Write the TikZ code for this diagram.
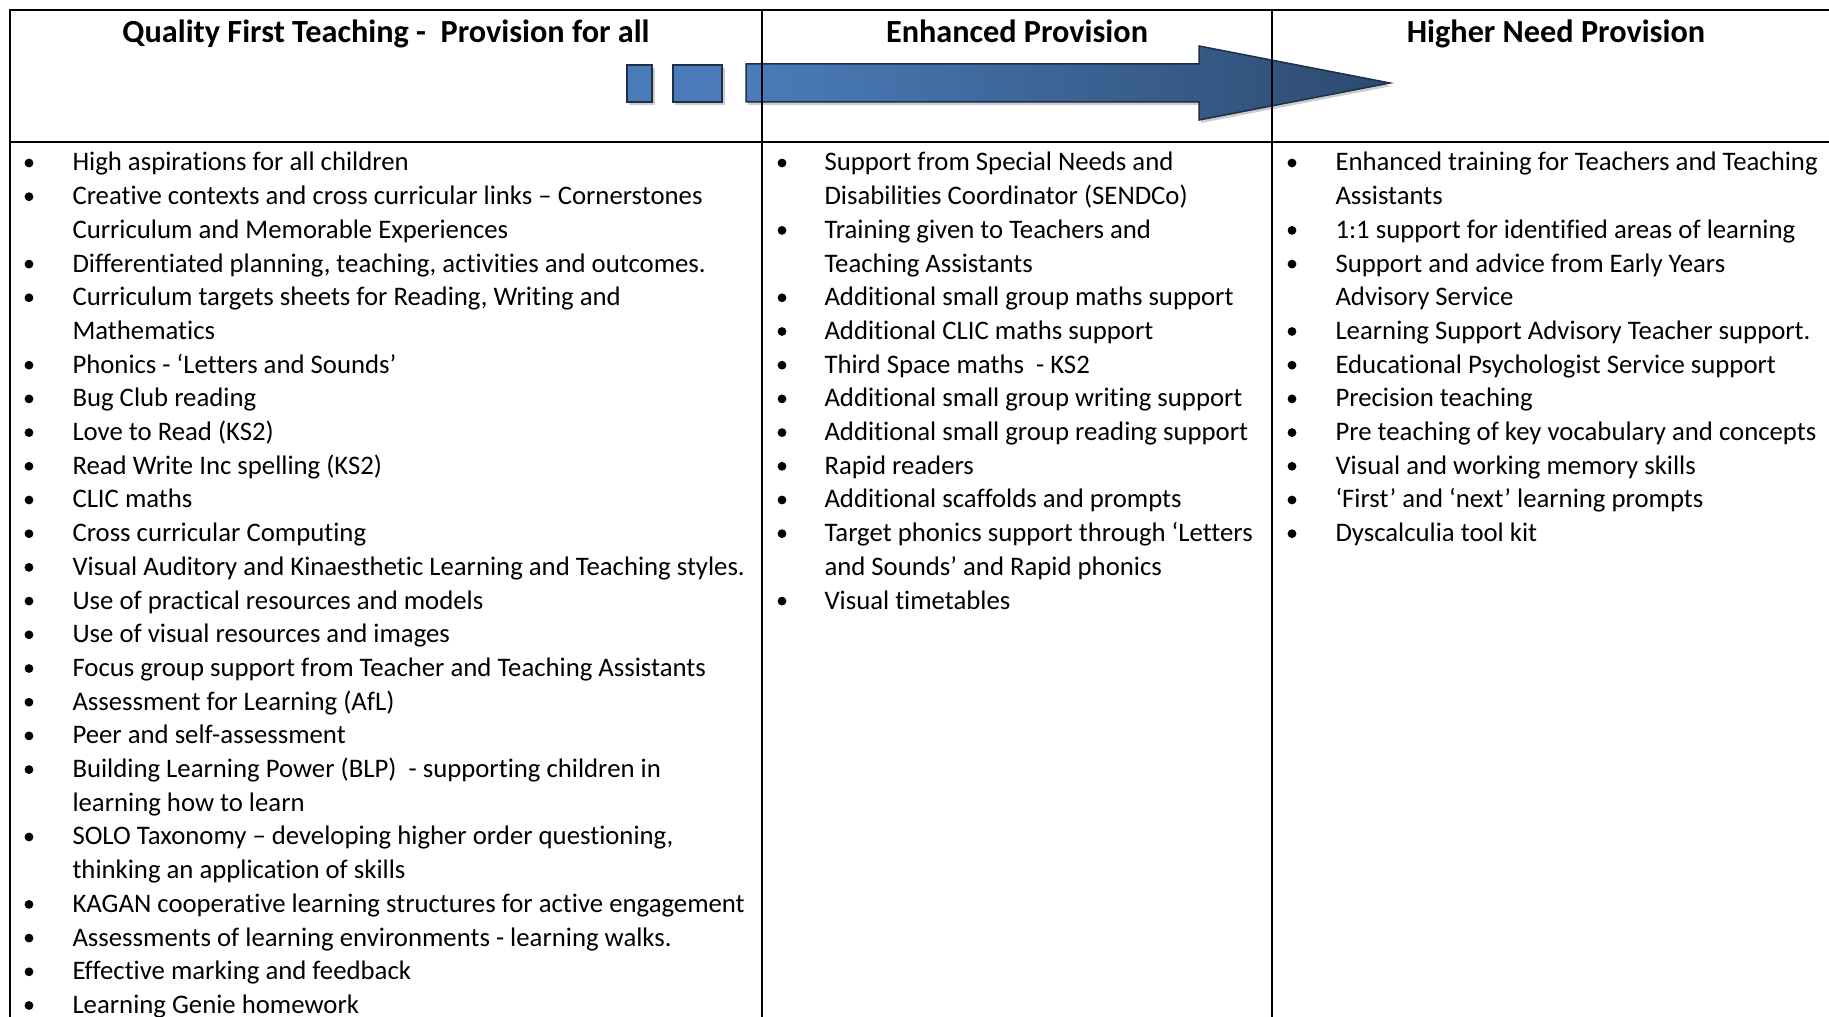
\documentclass[tikz,border=0pt]{standalone}
\usepackage{fontspec}
\setmainfont{Carlito}[Ligatures={TeX,NoCommon}]
\usetikzlibrary{positioning}

\definecolor{arrowblue}{HTML}{4A7CB9}
\definecolor{arrowmid}{HTML}{41699C}
\definecolor{arrowdark}{HTML}{2D4A70}
\definecolor{arrowedge}{HTML}{1E2F46}

\newcommand{\bodyfont}{\fontsize{10.7}{13}\selectfont}
\newcommand{\headfont}{\fontsize{12.9}{15}\selectfont\bfseries}

\tikzset{
  rule/.style={line width=0.8pt},
  itemtxt/.style={anchor=base west,inner sep=0pt,font=\bodyfont},
  headtxt/.style={anchor=base,inner sep=0pt,font=\headfont},
  block/.style={draw=arrowedge,line width=0.6pt,fill=arrowblue}
}

\begin{document}
\begin{tikzpicture}[x=0.4pt,y=-0.4pt]

\useasboundingbox (0,0) rectangle (1829,1017);
\clip (0,0) rectangle (1829,1017);

% arrow from left column to right column
\fill[black!20] (629,68) rectangle (655,105);
\fill[black!20] (675,68) rectangle (725,105);
\fill[black!20] (748,67) -- (1201,67) -- (1201,49) -- (1392,86) -- (1201,123) -- (1201,105) -- (748,105) -- cycle;
\draw[block] (627,65) rectangle (652,102);
\draw[block] (673,65) rectangle (722,102);
\shadedraw[block,left color=arrowblue,middle color=arrowmid,right color=arrowdark]
  (746,64) -- (1199,64) -- (1199,46) -- (1390,83) -- (1199,120) -- (1199,102) -- (746,102) -- cycle;

% table rules
\draw[rule] (10,1017) -- (10,10) -- (1829,10);
\draw[rule] (10,142) -- (1829,142);
\draw[rule] (762,10) -- (762,1017);
\draw[rule] (1272,10) -- (1272,1017);

% headings
\node[headtxt] (headqft) at (386,43) {Quality First Teaching -\ \ Provision for all};
\node[headtxt] (headenh) at (1017,43) {Enhanced Provision};
\node[headtxt] (headhnp) at (1556,43) {Higher Need Provision};

% quality first teaching
\foreach \row/\txt in {0/High aspirations for all children,
  1/Creative contexts and cross curricular links – Cornerstones,
  2/Curriculum and Memorable Experiences,
  3/{Differentiated planning, teaching, activities and outcomes.},
  4/{Curriculum targets sheets for Reading, Writing and},
  5/Mathematics,
  6/Phonics - ‘Letters and Sounds’,
  7/Bug Club reading,
  8/Love to Read (KS2),
  9/Read Write Inc spelling (KS2),
  10/CLIC maths,
  11/Cross curricular Computing,
  12/Visual Auditory and Kinaesthetic Learning and Teaching styles.,
  13/Use of practical resources and models,
  14/Use of visual resources and images,
  15/Focus group support from Teacher and Teaching Assistants,
  16/Assessment for Learning (AfL),
  17/Peer and self-assessment,
  18/Building Learning Power (BLP)\ \ - supporting children in,
  19/learning how to learn,
  20/{SOLO Taxonomy – developing higher order questioning,},
  21/thinking an application of skills,
  22/KAGAN cooperative learning structures for active engagement,
  23/Assessments of learning environments - learning walks.,
  24/Effective marking and feedback,
  25/Learning Genie homework}
  \node[itemtxt] (qft\row) at (72,{171+33.7*\row}) {\txt};
\foreach \row in {0,1,3,4,6,7,8,9,10,11,12,13,14,15,16,17,18,20,22,23,24,25}
  \fill (29,{163+33.7*\row}) circle (4.4);

% enhanced provision
\foreach \row/\txt in {0/Support from Special Needs and,
  1/Disabilities Coordinator (SENDCo),
  2/Training given to Teachers and,
  3/Teaching Assistants,
  4/Additional small group maths support,
  5/Additional CLIC maths support,
  6/Third Space maths\ \ - KS2,
  7/Additional small group writing support,
  8/Additional small group reading support,
  9/Rapid readers,
  10/Additional scaffolds and prompts,
  11/Target phonics support through ‘Letters,
  12/and Sounds’ and Rapid phonics,
  13/Visual timetables}
  \node[itemtxt] (enh\row) at (824,{171+33.7*\row}) {\txt};
\foreach \row in {0,2,4,5,6,7,8,9,10,11,13}
  \fill (782,{163+33.7*\row}) circle (4.4);

% higher need provision
\foreach \row/\txt in {0/Enhanced training for Teachers and Teaching,
  1/Assistants,
  2/1:1 support for identified areas of learning,
  3/Support and advice from Early Years,
  4/Advisory Service,
  5/Learning Support Advisory Teacher support.,
  6/Educational Psychologist Service support,
  7/Precision teaching,
  8/Pre teaching of key vocabulary and concepts,
  9/Visual and working memory skills,
  10/‘First’ and ‘next’ learning prompts,
  11/Dyscalculia tool kit}
  \node[itemtxt] (hnp\row) at (1335,{171+33.7*\row}) {\txt};
\foreach \row in {0,2,3,5,6,7,8,9,10,11}
  \fill (1292,{163+33.7*\row}) circle (4.4);

\end{tikzpicture}
\end{document}
